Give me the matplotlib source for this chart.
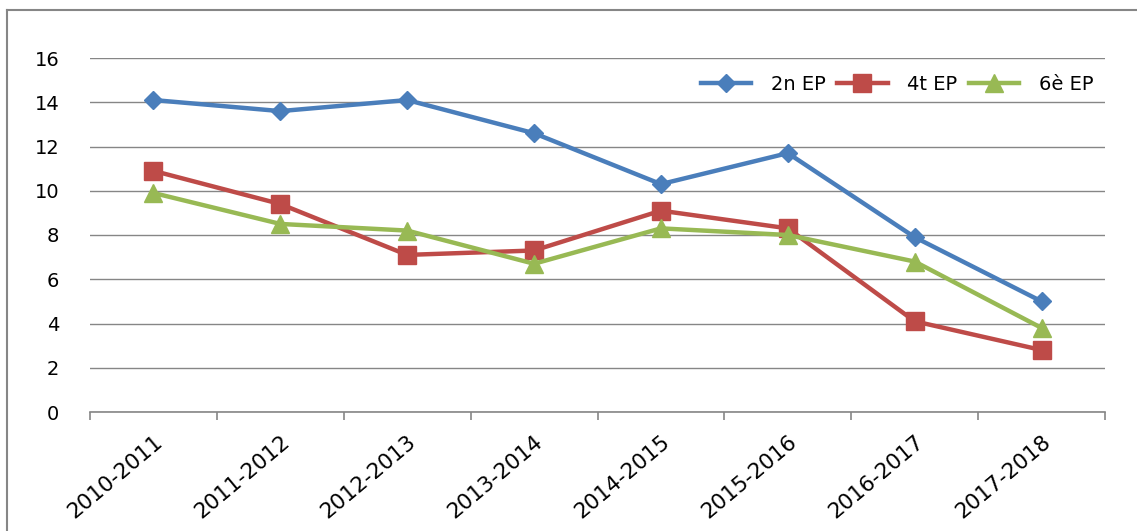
import matplotlib
matplotlib.use("Agg")
import matplotlib.pyplot as plt
from matplotlib.lines import Line2D

plt.rcParams['font.family'] = ['DejaVu Sans']

cursos = ['2010-2011', '2011-2012', '2012-2013', '2013-2014',
          '2014-2015', '2015-2016', '2016-2017', '2017-2018']
ep2 = [14.1, 13.6, 14.1, 12.6, 10.3, 11.7, 7.9, 5.0]
ep4 = [10.9, 9.4, 7.1, 7.3, 9.1, 8.3, 4.1, 2.8]
ep6 = [9.9, 8.5, 8.2, 6.7, 8.3, 8.0, 6.8, 3.8]

fig = plt.figure(figsize=(11.37, 5.31), dpi=100)
ax = fig.add_axes([90/1137, 1-412/531, 1015/1137, (412-58)/531])

x = range(len(cursos))
ax.plot(x, ep2, color='#4A7EBB', lw=3.2, marker='D', ms=9.5, label='2n EP', zorder=3)
ax.plot(x, ep4, color='#BE4B48', lw=3.2, marker='s', ms=12.5, label='4t EP', zorder=3)
ax.plot(x, ep6, color='#98B954', lw=3.2, marker='^', ms=13.5, label='6è EP', zorder=3)

ax.set_xlim(-0.5, len(cursos) - 0.5)
ax.set_ylim(0, 16)
ax.set_yticks(range(0, 17, 2))
ax.yaxis.grid(True, color='#868686', lw=1)
ax.set_axisbelow(True)
for s in ['top', 'right', 'left']:
    ax.spines[s].set_visible(False)
ax.spines['bottom'].set_color('#868686')
ax.spines['bottom'].set_linewidth(1.2)

ax.set_xticks([i - 0.5 for i in range(len(cursos) + 1)], minor=False)
ax.set_xticklabels([])
ax.set_xticks(list(x), minor=True)
ax.set_xticklabels(cursos, minor=True, rotation=40, ha='right',
                   rotation_mode='anchor', fontsize=15.5)
ax.tick_params(axis='x', which='major', length=6, color='#868686', width=1.2)
ax.tick_params(axis='x', which='minor', length=0, pad=14)
ax.tick_params(axis='y', length=0, labelsize=14, pad=22)

ax.legend(loc='upper right', bbox_to_anchor=(1.0, 0.985), ncol=3, frameon=False,
          fontsize=14, handlelength=2.6, columnspacing=0.6, handletextpad=1.0,
          borderaxespad=0.2)

# chart border (only left and top edges visible)
fig.add_artist(Line2D([7/1137, 7/1137], [0, 1 - 10/531], transform=fig.transFigure,
                      color='#868686', lw=1.5))
fig.add_artist(Line2D([7/1137, 1], [1 - 10/531, 1 - 10/531], transform=fig.transFigure,
                      color='#868686', lw=1.5))

fig.savefig('out.png', dpi=100)
